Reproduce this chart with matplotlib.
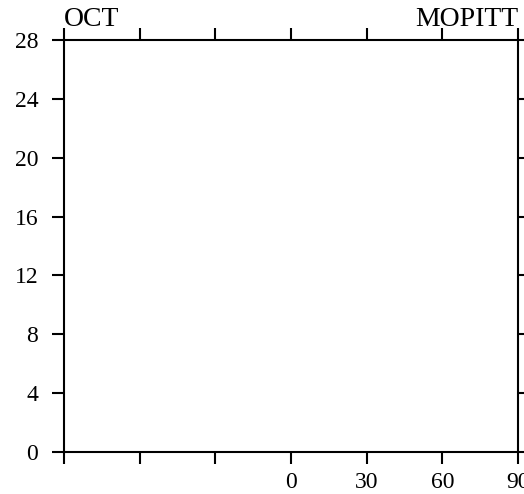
import matplotlib
matplotlib.use("Agg")
import matplotlib.pyplot as plt

x_ticks = [-90, -60, -30, 0, 30, 60, 90]
x_labels = ["", "", "", "0", "30", "60", "90"]
y_ticks = [0, 4, 8, 12, 16, 20, 24, 28]
y_labels = ["0", "4", "8", "12", "16", "20", "24", "28"]
left_title = "OCT"
right_title = "MOPITT"

plt.rcParams['font.family'] = ['Liberation Serif', 'DejaVu Serif']

fig = plt.figure(figsize=(5.24, 4.94), dpi=100)
ax = fig.add_axes([64/524, 1 - 452/494, (518-64)/524, (452-40)/494])
ax.set_xlim(-90, 90)
ax.set_ylim(0, 28)
ax.set_xticks(x_ticks)
ax.set_xticklabels(x_labels)
ax.set_yticks(y_ticks)
ax.set_yticklabels(y_labels)
for s in ax.spines.values():
    s.set_linewidth(1.5)
ax.tick_params(axis='both', which='major', direction='out', length=8.5, width=1.5,
               labelsize=17, top=True, right=True, labeltop=False, labelright=False)
ax.tick_params(axis='y', pad=10)
ax.tick_params(axis='x', pad=6)
ax.set_title(left_title, loc='left', fontsize=20, pad=10)
ax.set_title(right_title, loc='right', fontsize=20, pad=10)
fig.savefig("out.png", dpi=100)
